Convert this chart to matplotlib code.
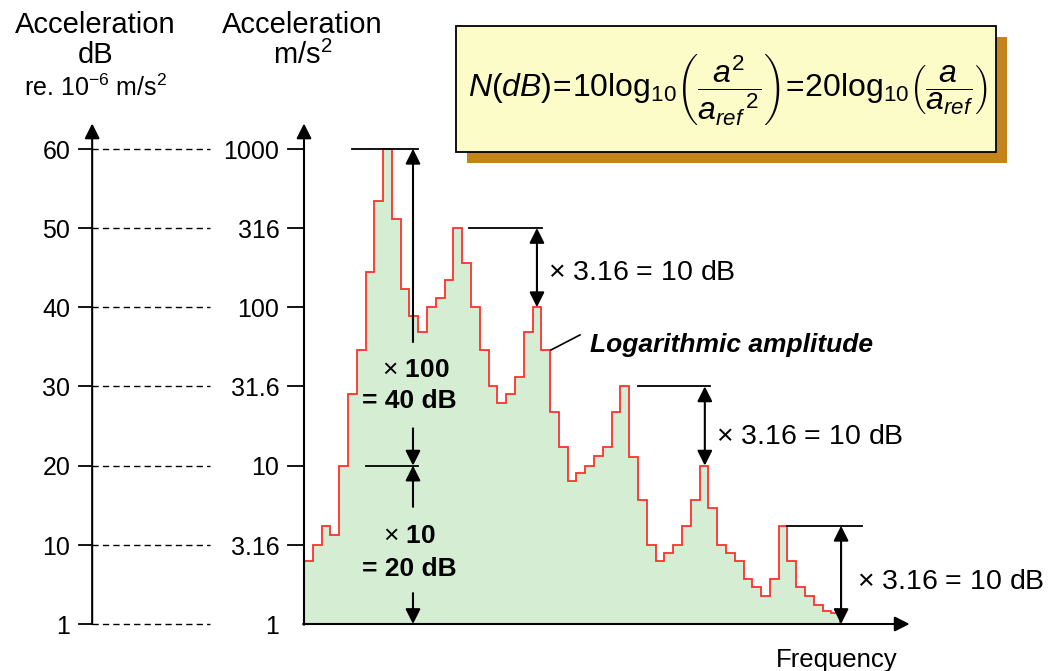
import numpy as np
import matplotlib
matplotlib.use('Agg')
from matplotlib import pyplot as plt
from matplotlib.patches import Rectangle

plt.rcParams['font.family'] = ['Liberation Sans', 'DejaVu Sans']
plt.rcParams['mathtext.fontset'] = 'custom'
plt.rcParams['mathtext.rm'] = 'Liberation Sans'
plt.rcParams['mathtext.it'] = 'Liberation Sans:italic'
plt.rcParams['mathtext.bf'] = 'Liberation Sans:bold'

# spectrum level per frequency band, in dB (0 dB = 1 m/s^2 on the right scale)
level_db = [7.9, 10, 12.4, 11.2, 20, 29, 34.6, 44.5, 53.4, 60,
            51.1, 42.3, 38.9, 36.9, 40, 41.2, 43.4, 50, 45.6, 40,
            34.6, 30, 27.9, 29, 31.2, 36.9, 40, 34.6, 26.8, 22.3,
            18, 19.1, 20, 21.2, 22.4, 26.8, 30, 21.1, 15.7, 10,
            7.9, 9, 10, 12.4, 15.7, 20, 14.6, 10, 9, 7.9,
            5.7, 4.7, 3.5, 5.7, 12.4, 7.9, 4.7, 3.5, 2.4, 1.7, 1.4]

tick_db = [0, 10, 20, 30, 40, 50, 60]
db_labels = ['1', '10', '20', '30', '40', '50', '60']
ms2_labels = ['1', '3.16', '10', '31.6', '100', '316', '1000']

BIN = 8.79   # px per band
DB = 7.92    # px per dB
W, H = 1053, 671
dy = -0.35   # text centre correction

fig = plt.figure(figsize=(W / 100, H / 100), dpi=100)
ax = fig.add_axes([0, 0, 1, 1])
ax.set_xlim(-304 / BIN, (W - 304) / BIN)
ax.set_ylim(-47 / DB, (H - 47) / DB)
ax.axis('off')

green = '#d4edd3'
red = '#ff3030'
edges = np.arange(len(level_db) + 1)
ax.stairs(level_db, edges, baseline=0, fill=True, color=green, zorder=1)
ax.stairs(level_db, edges, baseline=0, fill=False, color=red, lw=1.3, zorder=2)

arrow = dict(arrowstyle='-|>,head_length=0.9,head_width=0.45', color='black',
             lw=1.5, shrinkA=0, shrinkB=0, mutation_scale=10)
darrow = dict(arrowstyle='<|-|>,head_length=0.9,head_width=0.45', color='black',
              lw=1.5, shrinkA=0, shrinkB=0, mutation_scale=10)

x_left = -24.1
top = 63.2
# axes
ax.annotate('', xy=(x_left, top), xytext=(x_left, 0), arrowprops=arrow)
ax.annotate('', xy=(0, top), xytext=(0, -0.1), arrowprops=arrow)
ax.annotate('', xy=(68.9, 0), xytext=(-0.1, 0), arrowprops=arrow)

for v, l1, l2 in zip(tick_db, db_labels, ms2_labels):
    ax.plot([-25.6, x_left], [v, v], color='black', lw=1.3)
    ax.plot([x_left, -10.7], [v, v], color='black', lw=1.0, ls=(0, (4.5, 3)))
    if v > 0:
        ax.plot([-1.8, 0], [v, v], color='black', lw=1.3)
    ax.text(-26.6, v + dy, l1, ha='right', va='center', fontsize=18)
    ax.text(-2.8, v + dy, l2, ha='right', va='center', fontsize=18)

# axis titles
ax.text(-23.7, 76.0 + dy, 'Acceleration', ha='center', va='center', fontsize=21)
ax.text(-23.7, 72.2 + dy, 'dB', ha='center', va='center', fontsize=21)
ax.text(-23.7, 68.1 + dy, r're. 10$^{-6}$ m/s$^{2}$', ha='center', va='center', fontsize=18)
ax.text(-0.2, 76.0 + dy, 'Acceleration', ha='center', va='center', fontsize=21)
ax.text(-0.2, 72.2 + dy, r'm/s$^{2}$', ha='center', va='center', fontsize=21)
ax.text(60.6, -4.2 + dy, 'Frequency', ha='center', va='center', fontsize=18.5)

# x100 / x10 annotations
ax.plot([5.5, 13.0], [60, 60], color='black', lw=1.3)
ax.plot([7.0, 13.0], [20, 20], color='black', lw=1.3)
ax.annotate('', xy=(12.4, 60), xytext=(12.4, 35.6), arrowprops=arrow)
ax.annotate('', xy=(12.4, 20), xytext=(12.4, 24.7), arrowprops=arrow)
ax.annotate('', xy=(12.4, 20), xytext=(12.4, 14.8), arrowprops=arrow)
ax.annotate('', xy=(12.4, 0), xytext=(12.4, 3.9), arrowprops=arrow)
ax.text(12.7, 32.4 + dy, r'$\times$ 100', ha='center', va='center', fontsize=19, fontweight='bold')
ax.text(12.0, 28.5 + dy, '= 40 dB', ha='center', va='center', fontsize=19, fontweight='bold')
ax.text(12.0, 11.4 + dy, r'$\times$ 10', ha='center', va='center', fontsize=19, fontweight='bold')
ax.text(12.0, 7.3 + dy, '= 20 dB', ha='center', va='center', fontsize=19, fontweight='bold')

# x3.16 annotations
for x0, x1, xa, y_hi, tx, ty in [(18.8, 27.1, 26.5, 50, 27.8, 44.7),
                                 (38.0, 46.2, 45.6, 30, 46.9, 24.0),
                                 (54.9, 63.5, 61.1, 12.4, 62.9, 5.6)]:
    ax.plot([x0, x1], [y_hi, y_hi], color='black', lw=1.3)
    ax.annotate('', xy=(xa, y_hi), xytext=(xa, y_hi - 10 if y_hi > 12.4 else 0),
                arrowprops=darrow)
    ax.text(tx, ty + dy, r'$\times$ 3.16 = 10 dB', ha='left', va='center', fontsize=20.5)

ax.plot([28.1, 31.4], [34.6, 36.5], color='black', lw=1.2)
ax.text(32.5, 35.6 + dy, 'Logarithmic amplitude', ha='left', va='center', fontsize=19,
        fontweight='bold', fontstyle='italic')

# formula box
bx0, bx1 = 17.3, 78.7
by0, by1 = 59.6, 75.5
ax.add_patch(Rectangle((bx0 + 1.25, by0 - 1.4), bx1 - bx0, by1 - by0,
                       facecolor='#c4841c', edgecolor='none', zorder=3))
ax.add_patch(Rectangle((bx0, by0), bx1 - bx0, by1 - by0,
                       facecolor='#fcfcc8', edgecolor='black', lw=1.3, zorder=4))
ax.text(48.2, 67.5,
        r'$N(dB)\!=\!10\log_{10}\!\left(\dfrac{a^2}{{a_{ref}}^{\,2}}\right)\!=\!20\log_{10}\!\left(\dfrac{a}{a_{ref}}\right)$',
        ha='center', va='center', fontsize=23, zorder=5)

fig.savefig('out.png', dpi=100)
